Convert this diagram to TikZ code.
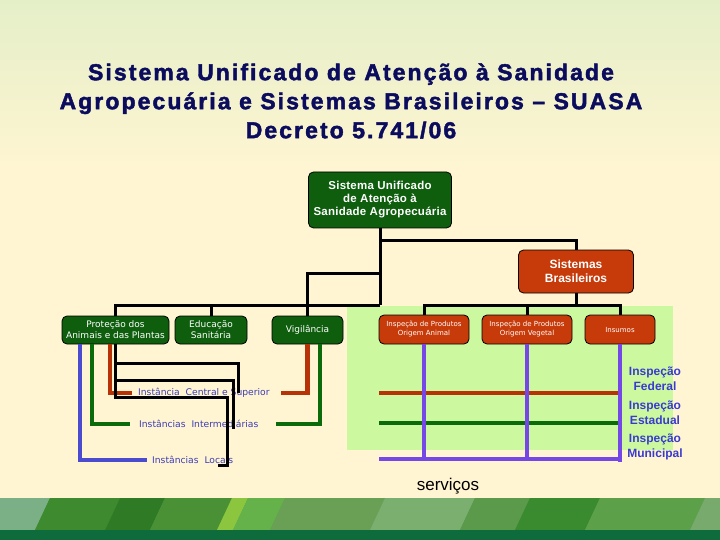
\documentclass[tikz,border=0pt]{standalone}
\usepackage{fontspec}
\setmainfont{Liberation Sans}
\setsansfont{Liberation Sans}
\newfontfamily\smallfam{DejaVu Sans}
\usetikzlibrary{positioning}

\definecolor{bgtop}{HTML}{E4EFC8}
\definecolor{bgmid}{HTML}{FFF5D2}
\definecolor{titleblue}{HTML}{0C0C5E}
\definecolor{boxgreen}{HTML}{0E5E0E}
\definecolor{boxred}{HTML}{C73A0A}
\definecolor{panelgreen}{HTML}{CCF9A0}
\definecolor{linered}{HTML}{B83208}
\definecolor{linegreen}{HTML}{0B6B0B}
\definecolor{linepurple}{HTML}{7447E6}
\definecolor{lineblue}{HTML}{4B4BD0}
\definecolor{labelblue}{HTML}{3C3CB4}
\definecolor{inspblue}{HTML}{3A3ACF}

\begin{document}
\begin{tikzpicture}[x=1pt,y=-1pt,font=\sffamily,
	gbox/.style={draw=black,fill=boxgreen,rounded corners=5pt,text=white,align=center,inner sep=1pt,line width=0.8pt},
	rbox/.style={draw=black,fill=boxred,rounded corners=5pt,text=white,align=center,inner sep=1pt,line width=0.8pt},
	blk/.style={draw=black,line width=3pt},
	redl/.style={draw=linered,line width=4.5pt},
	grnl/.style={draw=linegreen,line width=4.5pt},
	purl/.style={draw=linepurple,line width=4pt},
	blul/.style={draw=lineblue,line width=4.5pt},
	lvl/.style={text=labelblue,font=\smallfam\fontsize{9.2}{10}\selectfont,inner sep=2pt},
	insp/.style={text=inspblue,font=\sffamily\bfseries\fontsize{12}{15}\selectfont,align=center,inner sep=0pt}]
	\useasboundingbox (0,0) rectangle (720,540);

	% background and bottom band
	\fill[top color=bgtop,bottom color=bgmid] (0,0) rectangle (720,170);
	\fill[bgmid] (0,170) rectangle (720,498);
	\fill[green!45!black!70!white] (0,498) rectangle (720,530);
	\fill[color={rgb,255:red,123;green,175;blue,134}] (0,498) -- (50,498) -- (35,530) -- (0,530) -- cycle;
	\fill[color={rgb,255:red,62;green,138;blue,46}] (50,498) -- (120,498) -- (105,530) -- (35,530) -- cycle;
	\fill[color={rgb,255:red,47;green,122;blue,37}] (120,498) -- (165,498) -- (150,530) -- (105,530) -- cycle;
	\fill[color={rgb,255:red,74;green,144;blue,53}] (165,498) -- (232,498) -- (217,530) -- (150,530) -- cycle;
	\fill[color={rgb,255:red,140;green,198;blue,63}] (232,498) -- (248,498) -- (233,530) -- (217,530) -- cycle;
	\fill[color={rgb,255:red,102;green,178;blue,74}] (248,498) -- (285,498) -- (270,530) -- (233,530) -- cycle;
	\fill[color={rgb,255:red,106;green,160;blue,85}] (285,498) -- (385,498) -- (370,530) -- (270,530) -- cycle;
	\fill[color={rgb,255:red,122;green,175;blue,112}] (385,498) -- (475,498) -- (460,530) -- (370,530) -- cycle;
	\fill[color={rgb,255:red,90;green,154;blue,74}] (475,498) -- (530,498) -- (515,530) -- (460,530) -- cycle;
	\fill[color={rgb,255:red,58;green,138;blue,48}] (530,498) -- (600,498) -- (585,530) -- (515,530) -- cycle;
	\fill[color={rgb,255:red,92;green,160;blue,74}] (600,498) -- (705,498) -- (690,530) -- (585,530) -- cycle;
	\fill[color={rgb,255:red,120;green,170;blue,110}] (705,498) -- (720,498) -- (720,530) -- (690,530) -- cycle;
	\fill[color={rgb,255:red,14;green,107;blue,60}] (0,530) rectangle (720,540);

	% title
	\node [text=titleblue,font=\sffamily\bfseries\fontsize{23}{29}\selectfont\addfontfeatures{LetterSpace=9,FakeBold=2},align=center] (title) at (351,101) {Sistema Unificado de Atenção à Sanidade\\Agropecuária e Sistemas Brasileiros -- SUASA\\Decreto 5.741/06};

	% panel of the Brazilian systems
	\fill[panelgreen] (347,306) rectangle (673,450);

	% boxes
	\node [gbox,minimum width=143,minimum height=56,font=\sffamily\bfseries\fontsize{11.5}{13}\selectfont\addfontfeatures{LetterSpace=2}] (sua) at (380,200) {Sistema Unificado\\de Atenção à\\Sanidade Agropecuária};
	\node [rbox,minimum width=115,minimum height=43,font=\sffamily\bfseries\fontsize{12}{14}\selectfont] (sb) at (576,271.5) {Sistemas\\Brasileiros};

	\node [gbox,minimum width=107,minimum height=28,font=\smallfam\fontsize{9}{11}\selectfont] (prot) at (115.5,330) {Proteção dos\\Animais e das Plantas};
	\node [gbox,minimum width=72,minimum height=28,font=\smallfam\fontsize{9}{11}\selectfont] (edu) at (211,330) {Educação\\Sanitária};
	\node [gbox,minimum width=71,minimum height=28,font=\smallfam\fontsize{9}{11}\selectfont] (vig) at (307.5,330) {Vigilância};

	\node [rbox,minimum width=90,minimum height=29,font=\smallfam\fontsize{7}{9}\selectfont] (ani) at (424,329.5) {Inspeção de Produtos\\Origem Animal};
	\node [rbox,minimum width=90,minimum height=29,font=\smallfam\fontsize{7}{9}\selectfont] (veg) at (527,329.5) {Inspeção de Produtos\\Origem Vegetal};
	\node [rbox,minimum width=70,minimum height=29,font=\smallfam\fontsize{7}{9}\selectfont] (ins) at (620,329.5) {Insumos};

	% links from the top
	\coordinate (hubA) at (380,305);
	\coordinate (tapV) at (380,273);
	\coordinate (hubB) at (576,305);
	\draw[blk] (sua.south) -- ++(0,12) -| (sb.north);
	\draw[blk] (sua.south) -- (hubA);
	\draw[blk] (prot.north) |- (hubA);
	\draw[blk] (edu.north) -- (edu.north |- hubA);
	\draw[blk] (tapV) -| (vig.north);
	\draw[blk] (sb.south) -- (hubB);
	\draw[blk] (ani.north) |- (ins.north |- hubB) -- (ins.north);
	\draw[blk] (veg.north) -- (veg.north |- hubB);

	% levels on the left
	\node [lvl,anchor=west] (cen) at (136,393) {Instância\ \ Central e Superior};
	\node [lvl,anchor=west] (int) at (137,424) {Instâncias\ \ Intermediárias};
	\node [lvl,anchor=west] (loc) at (150,460) {Instâncias\ \ Locais};

	\draw[blul] ([xshift=-35.5]prot.south) |- ([xshift=-3]loc.west);
	\draw[grnl] ([xshift=-23.5]prot.south) |- ([xshift=-7]int.west);
	\draw[redl] ([xshift=-5.5]prot.south) |- ([xshift=-4]cen.west);
	\draw[redl] (vig.south) |- ([xshift=9]cen.east);
	\draw[grnl] ([xshift=12.5]vig.south) |- ([xshift=15]int.east);

	\draw[blk] (prot.south) -- ++(0,53) -- ++(112,0) -- ++(0,68) -- ++(-10,0);
	\draw[blk] ([yshift=-19]prot.south) -- ++(123,0) -- ++(0,30);
	\draw[blk] ([yshift=-36]prot.south) -- ++(118,0) -- ++(0,49);

	% inspection levels
	\coordinate (fedL) at (379,393);
	\coordinate (estL) at (379,423);
	\coordinate (munL) at (379,459);
	\draw[redl] (fedL) -- (fedL -| ins.south);
	\draw[grnl] (estL) -- (estL -| ins.south);
	\draw[purl] (ani.south) -- (ani.south |- munL);
	\draw[purl] (veg.south) -- (veg.south |- munL);
	\draw[purl] (ins.south) -- ++(0,118);
	\draw[purl] (munL) -- (munL -| ins.south);

	\node [insp] (fed) at (655,379) {Inspeção\\Federal};
	\node [insp] (est) at (655,413) {Inspeção\\Estadual};
	\node [insp] (mun) at (655,447) {Inspeção\\Municipal};

	\node [font=\sffamily\fontsize{17}{19}\selectfont] (serv) at (448,486) {serviços};
\end{tikzpicture}
\end{document}
